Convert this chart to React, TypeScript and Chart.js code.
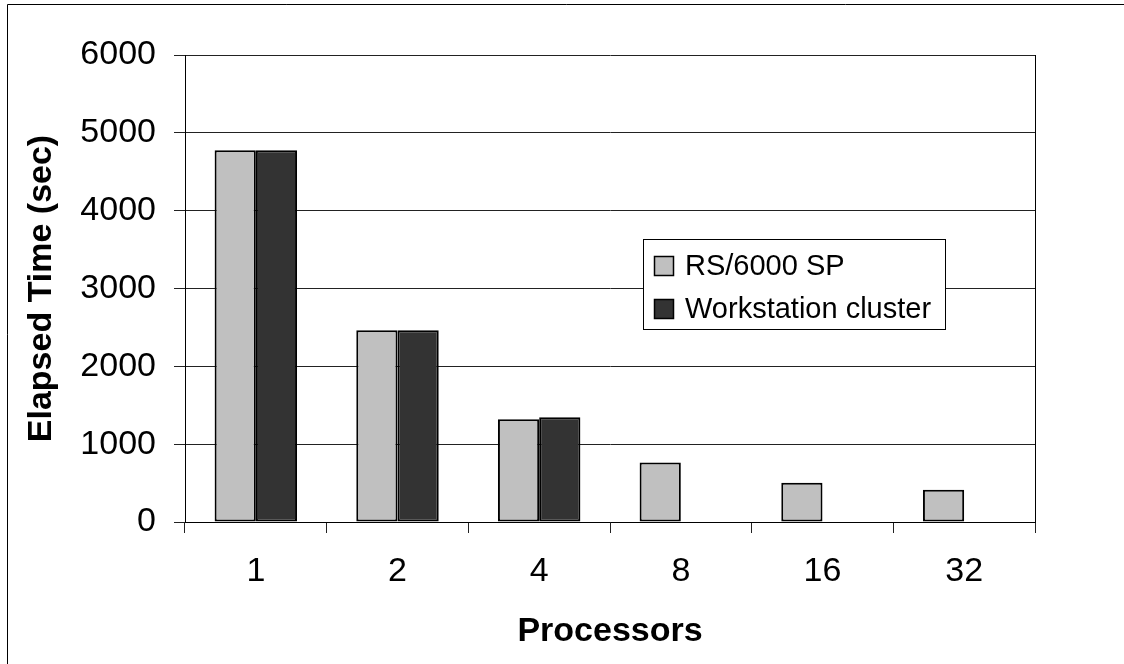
import React, { useEffect, useRef } from 'react';
import { Chart, registerables } from 'chart.js';

Chart.register(...registerables);

const categories = ['1', '2', '4', '8', '16', '32'];
const rsValues = [4775, 2465, 1320, 765, 505, 415];
const wsValues: (number | null)[] = [4775, 2465, 1345, null, null, null];
const seriesLabels = ['RS/6000 SP', 'Workstation cluster'];
const yMin = 0;
const yMax = 6000;
const yStep = 1000;
const xTitle = 'Processors';
const yTitle = 'Elapsed Time (sec)';

const FONT = "'Liberation Sans', Arial, sans-serif";

const framePlugin = {
  id: 'frameAndLegend',
  afterDraw(chart: any) {
    const ctx = chart.ctx;
    const a = chart.chartArea;
    ctx.save();
    ctx.strokeStyle = '#000';
    ctx.lineWidth = 1;
    ctx.beginPath();
    ctx.moveTo(7.5, 700);
    ctx.lineTo(7.5, 4.5);
    ctx.lineTo(1200, 4.5);
    ctx.stroke();
    ctx.beginPath();
    ctx.moveTo(Math.round(a.right) + 0.5, a.top);
    ctx.lineTo(Math.round(a.right) + 0.5, a.bottom);
    ctx.stroke();

    const lx = 643.5, ly = 239.5, lw = 302, lh = 90;
    ctx.fillStyle = '#fff';
    ctx.fillRect(lx, ly, lw, lh);
    ctx.strokeStyle = '#000';
    ctx.strokeRect(lx, ly, lw, lh);
    const rows = [266, 309];
    ctx.font = `29px ${FONT}`;
    ctx.textBaseline = 'middle';
    ctx.textAlign = 'left';
    chart.data.datasets.forEach((ds: any, i: number) => {
      const cy = rows[i];
      ctx.fillStyle = ds.backgroundColor;
      ctx.fillRect(654.5, cy - 9.5, 19, 19);
      ctx.lineWidth = 1.5;
      ctx.strokeStyle = '#000';
      ctx.strokeRect(654.5, cy - 9.5, 19, 19);
      ctx.fillStyle = '#000';
      ctx.fillText(ds.label, 685, cy + 1);
    });
    ctx.restore();
  },
};

export default function App() {
  const ref = useRef<HTMLCanvasElement>(null);
  useEffect(() => {
    if (!ref.current) return;
    const chart = new Chart(ref.current, {
      type: 'bar',
      data: {
        labels: categories,
        datasets: [
          {
            label: seriesLabels[0],
            data: rsValues,
            backgroundColor: '#c0c0c0',
            borderColor: '#000',
            borderWidth: 2,
            borderSkipped: false,
            categoryPercentage: 0.582,
            barPercentage: 1,
          },
          {
            label: seriesLabels[1],
            data: wsValues,
            backgroundColor: '#333333',
            borderColor: '#000',
            borderWidth: 2,
            borderSkipped: false,
            categoryPercentage: 0.582,
            barPercentage: 1,
          },
        ],
      },
      options: {
        animation: false,
        responsive: false,
        devicePixelRatio: 1,
        layout: { padding: { top: 55, right: 89, bottom: 0, left: 0 } },
        plugins: {
          legend: { display: false },
          tooltip: { enabled: false },
        },
        scales: {
          x: {
            grid: {
              offset: true,
              drawOnChartArea: false,
              drawTicks: true,
              tickLength: 11,
              color: '#222',
            },
            border: { color: '#000', width: 1 },
            ticks: {
              color: '#000',
              font: { family: FONT, size: 34 },
              padding: 18,
              maxRotation: 0,
              autoSkip: false,
            },
            title: {
              display: true,
              text: xTitle,
              color: '#000',
              font: { family: FONT, size: 34, weight: 'bold' },
              padding: { top: 0, bottom: 12 },
            },
            afterFit(scale: any) {
              scale.height = 142;
            },
          },
          y: {
            min: yMin,
            max: yMax,
            ticks: {
              stepSize: yStep,
              color: '#000',
              font: { family: FONT, size: 34 },
              padding: 18,
              callback: (v: any) => String(v),
            },
            grid: {
              color: '#222',
              tickLength: 11,
              drawTicks: true,
            },
            border: { color: '#000', width: 1 },
            title: {
              display: true,
              text: yTitle,
              color: '#000',
              font: { family: FONT, size: 34, weight: 'bold' },
              padding: { top: 21, bottom: 0 },
            },
            afterFit(scale: any) {
              scale.width = 185;
            },
          },
        },
      },
      plugins: [framePlugin],
    });
    return () => chart.destroy();
  }, []);
  return (
    <div style={{ position: 'fixed', left: 0, top: 0, width: 1124, height: 664, background: '#fff' }}>
      <canvas ref={ref} width={1124} height={664} style={{ display: 'block', width: 1124, height: 664 }} />
    </div>
  );
}
